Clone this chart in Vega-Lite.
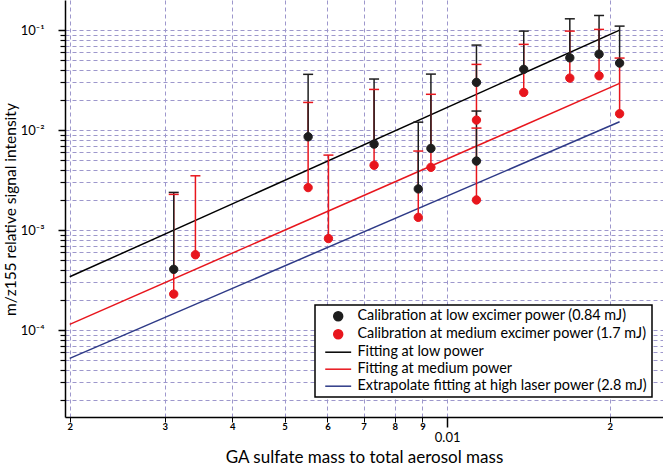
{
  "$schema": "https://vega.github.io/schema/vega-lite/v6.json",
  "width": 598,
  "height": 417,
  "autosize": "none",
  "padding": {"left": 65, "top": 0, "right": 0, "bottom": 49},
  "background": "white",
  "config": {
    "view": {"stroke": null},
    "font": "Lato",
    "mark": {"opacity": 1},
    "legend": {"strokeWidth": 1.5}
  },
  "datasets": {
    "points": [
      {"series": "Calibration at medium excimer power (1.7 mJ)", "x": 0.003116, "y": 0.000229, "cap": 0.002275},
      {"series": "Calibration at medium excimer power (1.7 mJ)", "x": 0.003418, "y": 0.000566, "cap": 0.00349},
      {"series": "Calibration at medium excimer power (1.7 mJ)", "x": 0.005527, "y": 0.00266, "cap": 0.0189},
      {"series": "Calibration at medium excimer power (1.7 mJ)", "x": 0.006027, "y": 0.000822, "cap": 0.00562},
      {"series": "Calibration at medium excimer power (1.7 mJ)", "x": 0.007322, "y": 0.00445, "cap": 0.0255},
      {"series": "Calibration at medium excimer power (1.7 mJ)", "x": 0.00884, "y": 0.00134, "cap": 0.00617},
      {"series": "Calibration at medium excimer power (1.7 mJ)", "x": 0.00933, "y": 0.00424, "cap": 0.0228},
      {"series": "Calibration at medium excimer power (1.7 mJ)", "x": 0.01133, "y": 0.01259, "cap": 0.0454},
      {"series": "Calibration at medium excimer power (1.7 mJ)", "x": 0.01133, "y": 0.0020, "cap": 0.01047},
      {"series": "Calibration at medium excimer power (1.7 mJ)", "x": 0.01386, "y": 0.0238, "cap": 0.072},
      {"series": "Calibration at medium excimer power (1.7 mJ)", "x": 0.01687, "y": 0.0331, "cap": 0.0977},
      {"series": "Calibration at medium excimer power (1.7 mJ)", "x": 0.01911, "y": 0.0349, "cap": 0.1016},
      {"series": "Calibration at medium excimer power (1.7 mJ)", "x": 0.02086, "y": 0.01456, "cap": 0.0525},
      {"series": "Calibration at low excimer power (0.84 mJ)", "x": 0.003116, "y": 0.000405, "cap": 0.00238},
      {"series": "Calibration at low excimer power (0.84 mJ)", "x": 0.005527, "y": 0.00857, "cap": 0.0361},
      {"series": "Calibration at low excimer power (0.84 mJ)", "x": 0.007322, "y": 0.00724, "cap": 0.0324},
      {"series": "Calibration at low excimer power (0.84 mJ)", "x": 0.00884, "y": 0.00258, "cap": 0.0120},
      {"series": "Calibration at low excimer power (0.84 mJ)", "x": 0.00933, "y": 0.00656, "cap": 0.0363},
      {"series": "Calibration at low excimer power (0.84 mJ)", "x": 0.01133, "y": 0.0300, "cap": 0.0708},
      {"series": "Calibration at low excimer power (0.84 mJ)", "x": 0.01133, "y": 0.0049, "cap": 0.0155},
      {"series": "Calibration at low excimer power (0.84 mJ)", "x": 0.01386, "y": 0.0405, "cap": 0.0977},
      {"series": "Calibration at low excimer power (0.84 mJ)", "x": 0.01687, "y": 0.0528, "cap": 0.1297},
      {"series": "Calibration at low excimer power (0.84 mJ)", "x": 0.01911, "y": 0.0575, "cap": 0.140},
      {"series": "Calibration at low excimer power (0.84 mJ)", "x": 0.02086, "y": 0.0468, "cap": 0.1096}
    ],
    "fits": [
      {"series": "Fitting at low power", "x": 0.002, "y": 0.000341},
      {"series": "Fitting at low power", "x": 0.02086, "y": 0.1},
      {"series": "Fitting at medium power", "x": 0.002, "y": 0.000114},
      {"series": "Fitting at medium power", "x": 0.02086, "y": 0.0293},
      {"series": "Extrapolate fitting at high laser power (2.8 mJ)", "x": 0.002, "y": 0.0000521},
      {"series": "Extrapolate fitting at high laser power (2.8 mJ)", "x": 0.02086, "y": 0.0121}
    ]
  },
  "encoding": {
    "x": {
      "field": "x", "type": "quantitative",
      "scale": {"type": "log", "domain": [0.00196, 0.0251], "nice": false},
      "axis": {
        "title": "GA sulfate mass to total aerosol mass",
        "titleFont": "Lato", "titleFontSize": 17, "titleFontWeight": "normal", "titleColor": "black",
        "titleY": 45.5, "titleBaseline": "alphabetic",
        "values": [0.002, 0.003, 0.004, 0.005, 0.006, 0.007, 0.008, 0.009, 0.01, 0.02],
        "labelExpr": "abs(datum.value - 0.01) < 0.0001 ? '0.01' : (datum.value < 0.0095 ? format(datum.value * 1000, '.0f') : format(datum.value * 100, '.0f'))",
        "labelFont": "Lato",
        "labelFontSize": {"condition": {"test": "abs(datum.value - 0.01) < 0.0001", "value": 13}, "value": 9.5},
        "labelFontWeight": {"condition": {"test": "abs(datum.value - 0.01) < 0.0001", "value": "normal"}, "value": "bold"},
        "labelPadding": {"condition": {"test": "abs(datum.value - 0.01) < 0.0001", "value": 4}, "value": -1},
        "labelColor": "black",
        "labelFlush": false,
        "labelOverlap": false,
        "tickSize": {"condition": {"test": "abs(datum.value - 0.01) < 0.0001", "value": 10}, "value": 5},
        "tickWidth": {"condition": {"test": "abs(datum.value - 0.01) < 0.0001", "value": 1.5}, "value": 1},
        "tickColor": "black",
        "domainColor": "black", "domainWidth": 1.5,
        "grid": true, "gridColor": "#9d97cc", "gridDash": [4, 3], "gridWidth": 1
      }
    },
    "y": {
      "field": "y", "type": "quantitative",
      "scale": {"type": "log", "domain": [0.0000135, 0.2], "nice": false},
      "axis": {
        "title": "m/z155 relative signal intensity",
        "titleFont": "Lato", "titleFontSize": 15.5, "titleFontWeight": "normal", "titleColor": "black",
        "titleX": -55, "titleY": 209, "titleAngle": -90, "titleAlign": "center", "titleBaseline": "middle",
        "values": [0.00002, 0.00003, 0.00004, 0.00005, 0.00006, 0.00007, 0.00008, 0.00009,
                   0.0001, 0.0002, 0.0003, 0.0004, 0.0005, 0.0006, 0.0007, 0.0008, 0.0009,
                   0.001, 0.002, 0.003, 0.004, 0.005, 0.006, 0.007, 0.008, 0.009,
                   0.01, 0.02, 0.03, 0.04, 0.05, 0.06, 0.07, 0.08, 0.09, 0.1],
        "labelExpr": "abs(log(datum.value) / LN10 - round(log(datum.value) / LN10)) < 0.01 ? '10' + ['⁰', '⁻¹', '⁻²', '⁻³', '⁻⁴', '⁻⁵'][-round(log(datum.value) / LN10)] : ''",
        "labelFont": "Lato", "labelFontSize": 13, "labelColor": "black",
        "labelPadding": 14,
        "labelFlush": false,
        "labelOverlap": false,
        "tickSize": {"condition": {"test": "abs(log(datum.value) / LN10 - round(log(datum.value) / LN10)) < 0.01", "value": 7}, "value": 5},
        "tickWidth": {"condition": {"test": "abs(log(datum.value) / LN10 - round(log(datum.value) / LN10)) < 0.01", "value": 1.5}, "value": 1.2},
        "tickColor": "black",
        "domainColor": "black", "domainWidth": 1.5,
        "grid": true, "gridColor": "#9d97cc", "gridDash": [4, 3], "gridWidth": 1
      }
    },
    "color": {
      "field": "series", "type": "nominal",
      "scale": {
        "domain": ["Calibration at low excimer power (0.84 mJ)", "Calibration at medium excimer power (1.7 mJ)", "Fitting at low power", "Fitting at medium power", "Extrapolate fitting at high laser power (2.8 mJ)"],
        "range": ["#1e1e1e", "#e8161d", "#000000", "#e8161d", "#2e3a87"]
      },
      "legend": {
        "title": null,
        "orient": "none",
        "legendX": 250,
        "legendY": 305,
        "fillColor": "white",
        "strokeColor": "black",
        "padding": 4,
        "labelFont": "Lato",
        "labelFontSize": 14.4,
        "labelColor": "black",
        "labelLimit": 400,
        "rowPadding": 2,
        "symbolSize": 80,
        "symbolOffset": 12,
        "labelOffset": 12,
        "symbolStrokeWidth": 1.5,
        "symbolOpacity": 1
      }
    }
  },
  "layer": [
    {
      "data": {"name": "fits"},
      "mark": {"type": "line", "strokeWidth": 1.5, "clip": true}
    },
    {
      "data": {"name": "points"},
      "mark": {"type": "rule", "strokeWidth": 1.5},
      "encoding": {"y2": {"field": "cap"}}
    },
    {
      "data": {"name": "points"},
      "mark": {"type": "tick", "orient": "horizontal", "size": 10, "thickness": 1.5, "opacity": 1},
      "encoding": {"y": {"field": "cap", "type": "quantitative"}}
    },
    {
      "data": {"name": "points"},
      "mark": {"type": "point", "filled": true, "opacity": 1, "fillOpacity": 1, "strokeOpacity": 1, "size": 70, "strokeWidth": 1},
      "encoding": {
        "shape": {
          "field": "series", "type": "nominal",
          "scale": {
            "domain": ["Calibration at low excimer power (0.84 mJ)", "Calibration at medium excimer power (1.7 mJ)", "Fitting at low power", "Fitting at medium power", "Extrapolate fitting at high laser power (2.8 mJ)"],
            "range": ["circle", "circle", "M-2.9,0H2.9", "M-2.9,0H2.9", "M-2.9,0H2.9"]
          }
        },
        "stroke": {
          "field": "series", "type": "nominal",
          "scale": {
            "domain": ["Calibration at low excimer power (0.84 mJ)", "Calibration at medium excimer power (1.7 mJ)", "Fitting at low power", "Fitting at medium power", "Extrapolate fitting at high laser power (2.8 mJ)"],
            "range": ["#1e1e1e", "#e8161d", "#000000", "#e8161d", "#2e3a87"]
          }
        }
      }
    }
  ]
}
